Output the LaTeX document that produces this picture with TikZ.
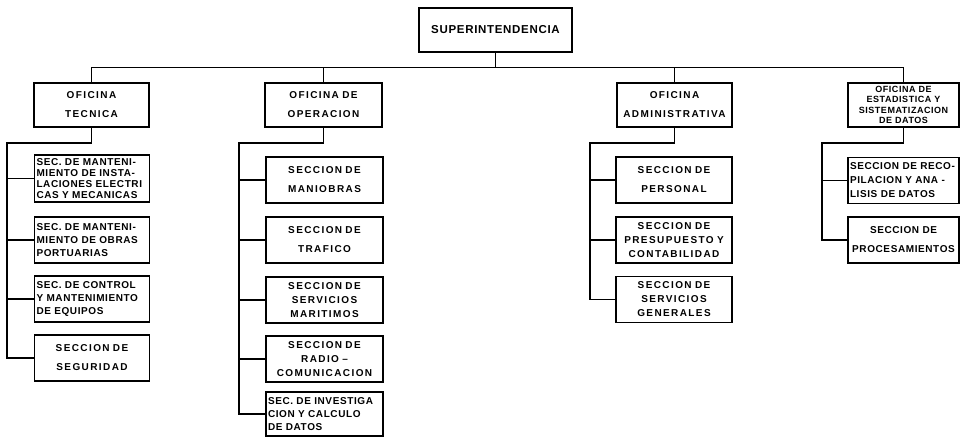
\documentclass[tikz,border=0pt]{standalone}
\usepackage{fontspec}
\usepackage{tikz}
\usetikzlibrary{positioning,calc}

\newfontfamily\orgfont{Liberation Sans}[LetterSpace=14]
\newfontfamily\orgnarrow{Liberation Sans}[LetterSpace=6]

\begin{document}
\begin{tikzpicture}[x=1pt, y=-1pt,
            box/.style={rectangle, draw=black, line width=1.6pt, inner xsep=2pt, inner ysep=1pt,
            align=center, text=black},
            office/.style={box, minimum height=44pt},
            section/.style={box, minimum height=46pt},
            twoline/.style={font=\orgfont\bfseries\fontsize{10}{19}\selectfont},
            threeline/.style={font=\orgfont\bfseries\fontsize{10}{14}\selectfont},
            dense/.style={align=left, font=\orgnarrow\bfseries\fontsize{10}{13}\selectfont},
            link/.style={draw=black, line width=1.2pt}]
            \useasboundingbox (0,0) rectangle (961,438);
            % direccion
            \node (sup) [box, text width=149pt, minimum height=44pt,
            font=\orgnarrow\bfseries\fontsize{11.5}{13}\selectfont] at (495.5,30) {SUPERINTENDENCIA};
            % oficinas
            \node (tec) [office, twoline, text width=111pt] at (91.5,105) {OFICINA\\TECNICA};
            \node (ope) [office, twoline, text width=113pt] at (323.5,105) {OFICINA DE\\OPERACION};
            \node (adm) [office, twoline, text width=111pt] at (674.5,105) {OFICINA\\ADMINISTRATIVA};
            \node (est) [office, text width=107pt, font=\orgnarrow\bfseries\fontsize{9}{10.5}\selectfont]
            at (903.5,105) {OFICINA DE\\ESTADISTICA Y\\SISTEMATIZACION\\DE DATOS};
            % secciones de la oficina tecnica
            \node (t1) [section, dense, text width=111pt, minimum height=47pt,
            font=\orgnarrow\bfseries\fontsize{10}{11}\selectfont] at (92,178.5)
            {SEC. DE MANTENI-\\MIENTO DE INSTA-\\LACIONES ELECTRI\\CAS Y MECANICAS};
            \node (t2) [section, dense, text width=111pt] at (92,240)
            {SEC. DE MANTENI-\\MIENTO DE OBRAS\\PORTUARIAS};
            \node (t3) [section, dense, text width=111pt] at (92,299)
            {SEC. DE CONTROL\\Y MANTENIMIENTO\\DE EQUIPOS};
            \node (t4) [section, twoline, text width=111pt] at (92,358) {SECCION DE\\SEGURIDAD};
            % secciones de la oficina de operacion
            \node (o1) [section, twoline, text width=113pt] at (324.5,180) {SECCION DE\\MANIOBRAS};
            \node (o2) [section, twoline, text width=113pt] at (324.5,240) {SECCION DE\\TRAFICO};
            \node (o3) [section, threeline, text width=113pt] at (324.5,300) {SECCION DE\\SERVICIOS\\MARITIMOS};
            \node (o4) [section, threeline, text width=113pt] at (324.5,359) {SECCION DE\\RADIO \textendash\\COMUNICACION};
            \node (o5) [section, dense, text width=113pt, minimum height=44pt] at (324.5,414)
            {SEC. DE INVESTIGA\\CION Y CALCULO\\DE DATOS};
            % secciones de la oficina administrativa
            \node (a1) [section, twoline, text width=112pt] at (674,180) {SECCION DE\\PERSONAL};
            \node (a2) [section, threeline, text width=112pt] at (674,240) {SECCION DE\\PRESUPUESTO Y\\CONTABILIDAD};
            \node (a3) [section, threeline, text width=112pt] at (674,299.5) {SECCION DE\\SERVICIOS\\GENERALES};
            % secciones de la oficina de estadistica
            \node (e1) [section, dense, text width=107pt, font=\orgnarrow\bfseries\fontsize{10}{14}\selectfont]
            at (903.5,180.5) {SECCION DE RECO-\\PILACION Y ANA -\\LISIS DE DATOS};
            \node (e2) [section, text width=107pt, font=\orgnarrow\bfseries\fontsize{10}{19}\selectfont]
            at (903.5,240) {SECCION DE\\PROCESAMIENTOS};
            % lineas de mando
            \draw [link] (sup.south) -- ++(0,15) coordinate (bus);
            \draw [link] (tec.north) |- (bus) -| (est.north);
            \draw [link] (ope.north) -- (ope.north |- bus);
            \draw [link] (adm.north) -- (adm.north |- bus);
            \coordinate (tecspine) at (7,143);
            \coordinate (opespine) at (239,143);
            \coordinate (admspine) at (590,143);
            \coordinate (estspine) at (822,143);
            \draw [link] (tec.south) |- (tecspine) |- (t4.west);
            \draw [link] (ope.south) |- (opespine) |- (o5.west);
            \draw [link] (adm.south) |- (admspine) |- (a3.west);
            \draw [link] (est.south) |- (estspine) |- (e2.west);
            \foreach \s in {t1,t2,t3}
                \draw [link] (\s.west) -- (\s.west -| tecspine);
            \foreach \s in {o1,o2,o3,o4}
                \draw [link] (\s.west) -- (\s.west -| opespine);
            \foreach \s in {a1,a2}
                \draw [link] (\s.west) -- (\s.west -| admspine);
            \draw [link] (e1.west) -- (e1.west -| estspine);
        \end{tikzpicture}
\end{document}
